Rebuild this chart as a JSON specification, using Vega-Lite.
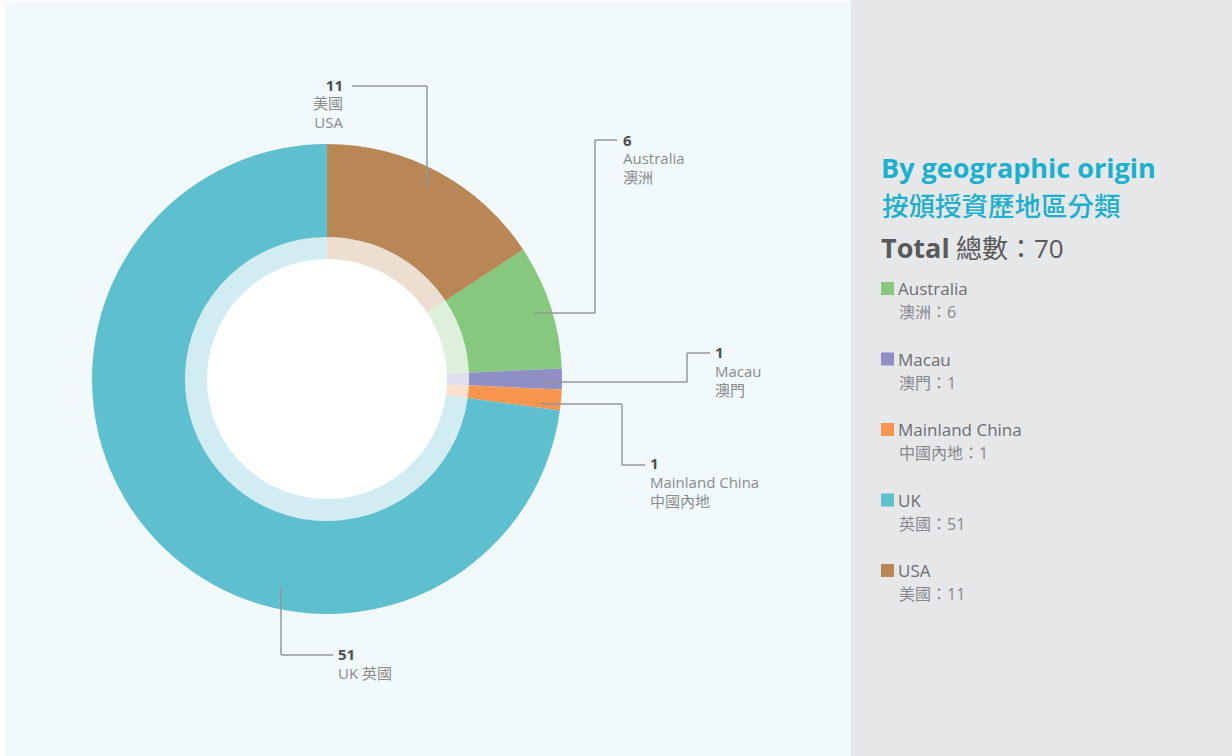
{
  "$schema": "https://vega.github.io/schema/vega-lite/v6.json",
  "width": 1232,
  "height": 756,
  "autosize": "none",
  "padding": 0,
  "background": "#ffffff",
  "config": {"view": {"stroke": null}, "font": "'Open Sans', 'Noto Sans CJK TC', sans-serif"},
  "datasets": {
    "origin": [
      {"country": "Australia", "cn": "澳洲", "count": 6},
      {"country": "Macau", "cn": "澳門", "count": 1},
      {"country": "Mainland China", "cn": "中國內地", "count": 1},
      {"country": "UK", "cn": "英國", "count": 51},
      {"country": "USA", "cn": "美國", "count": 11}
    ]
  },
  "data": {"values": [{}]},
  "layer": [
    {"mark": {"type": "rect", "fill": "#f1f9fb"}, "encoding": {"x": {"value": 5}, "x2": {"value": 851}, "y": {"value": 1}, "y2": {"value": 756}}},
    {"mark": {"type": "rect", "fill": "#e6e7e8"}, "encoding": {"x": {"value": 851}, "x2": {"value": 1232}, "y": {"value": 0}, "y2": {"value": 756}}},
    {"mark": {"type": "arc", "x": 327, "y": 379, "theta": 0, "theta2": 6.2832, "innerRadius": 0, "outerRadius": 142, "fill": "#ffffff"}, "encoding": {}},
    {
      "data": {"name": "origin"},
      "mark": {"type": "arc", "x": 327, "y": 379, "innerRadius": 120, "outerRadius": 142, "opacity": 0.28},
      "encoding": {
        "theta": {"field": "count", "type": "quantitative", "stack": true, "scale": {"range": [0.98736, 7.27055]}},
        "order": {"field": "country", "sort": "ascending"},
        "color": {"field": "country", "type": "nominal", "legend": null,
          "scale": {"domain": ["Australia", "Macau", "Mainland China", "UK", "USA"], "range": ["#86c87e", "#8f8fc5", "#f7954f", "#5ebfcf", "#b98756"]}}
      }
    },
    {
      "data": {"name": "origin"},
      "mark": {"type": "arc", "x": 327, "y": 379, "innerRadius": 142, "outerRadius": 235},
      "encoding": {
        "theta": {"field": "count", "type": "quantitative", "stack": true, "scale": {"range": [0.98736, 7.27055]}},
        "order": {"field": "country", "sort": "ascending"},
        "color": {"field": "country", "type": "nominal", "legend": null}
      }
    },
    {"mark": {"type": "rule", "color": "#949699", "strokeWidth": 1.5}, "encoding": {"x": {"value": 427}, "y": {"value": 188}, "x2": {"value": 427}, "y2": {"value": 86}}},
    {"mark": {"type": "rule", "color": "#949699", "strokeWidth": 1.5}, "encoding": {"x": {"value": 352}, "y": {"value": 86}, "x2": {"value": 427}, "y2": {"value": 86}}},
    {"mark": {"type": "rule", "color": "#949699", "strokeWidth": 1.5}, "encoding": {"x": {"value": 534}, "y": {"value": 313}, "x2": {"value": 595}, "y2": {"value": 313}}},
    {"mark": {"type": "rule", "color": "#949699", "strokeWidth": 1.5}, "encoding": {"x": {"value": 595}, "y": {"value": 313}, "x2": {"value": 595}, "y2": {"value": 140}}},
    {"mark": {"type": "rule", "color": "#949699", "strokeWidth": 1.5}, "encoding": {"x": {"value": 595}, "y": {"value": 140}, "x2": {"value": 617}, "y2": {"value": 140}}},
    {"mark": {"type": "rule", "color": "#949699", "strokeWidth": 1.5}, "encoding": {"x": {"value": 543}, "y": {"value": 382}, "x2": {"value": 687}, "y2": {"value": 382}}},
    {"mark": {"type": "rule", "color": "#949699", "strokeWidth": 1.5}, "encoding": {"x": {"value": 687}, "y": {"value": 382}, "x2": {"value": 687}, "y2": {"value": 353}}},
    {"mark": {"type": "rule", "color": "#949699", "strokeWidth": 1.5}, "encoding": {"x": {"value": 687}, "y": {"value": 353}, "x2": {"value": 710}, "y2": {"value": 353}}},
    {"mark": {"type": "rule", "color": "#949699", "strokeWidth": 1.5}, "encoding": {"x": {"value": 541}, "y": {"value": 404}, "x2": {"value": 622}, "y2": {"value": 404}}},
    {"mark": {"type": "rule", "color": "#949699", "strokeWidth": 1.5}, "encoding": {"x": {"value": 622}, "y": {"value": 404}, "x2": {"value": 622}, "y2": {"value": 465}}},
    {"mark": {"type": "rule", "color": "#949699", "strokeWidth": 1.5}, "encoding": {"x": {"value": 622}, "y": {"value": 465}, "x2": {"value": 645}, "y2": {"value": 465}}},
    {"mark": {"type": "rule", "color": "#949699", "strokeWidth": 1.5}, "encoding": {"x": {"value": 281}, "y": {"value": 587}, "x2": {"value": 281}, "y2": {"value": 655}}},
    {"mark": {"type": "rule", "color": "#949699", "strokeWidth": 1.5}, "encoding": {"x": {"value": 281}, "y": {"value": 655}, "x2": {"value": 333}, "y2": {"value": 655}}},
    {
      "data": {"name": "origin"},
      "transform": [{"filter": "datum.country === 'USA'"}],
      "mark": {"type": "text", "x": 343, "y": 91, "align": "right", "baseline": "alphabetic", "fontSize": 15, "fontWeight": "bold", "color": "#4d4e50"},
      "encoding": {"text": {"field": "count"}}
    },
    {"mark": {"type": "text", "x": 343, "y": 109, "align": "right", "baseline": "alphabetic", "fontSize": 15, "lineHeight": 19, "color": "#8a8b8d", "text": ["美國", "USA"]}, "encoding": {}},
    {
      "data": {"name": "origin"},
      "transform": [{"filter": "datum.country === 'Australia'"}],
      "mark": {"type": "text", "x": 623, "y": 146, "align": "left", "baseline": "alphabetic", "fontSize": 15, "fontWeight": "bold", "color": "#4d4e50"},
      "encoding": {"text": {"field": "count"}}
    },
    {"mark": {"type": "text", "x": 623, "y": 164, "align": "left", "baseline": "alphabetic", "fontSize": 15, "lineHeight": 19, "color": "#8a8b8d", "text": ["Australia", "澳洲"]}, "encoding": {}},
    {
      "data": {"name": "origin"},
      "transform": [{"filter": "datum.country === 'Macau'"}],
      "mark": {"type": "text", "x": 715, "y": 358, "align": "left", "baseline": "alphabetic", "fontSize": 15, "fontWeight": "bold", "color": "#4d4e50"},
      "encoding": {"text": {"field": "count"}}
    },
    {"mark": {"type": "text", "x": 715, "y": 377, "align": "left", "baseline": "alphabetic", "fontSize": 15, "lineHeight": 19, "color": "#8a8b8d", "text": ["Macau", "澳門"]}, "encoding": {}},
    {
      "data": {"name": "origin"},
      "transform": [{"filter": "datum.country === 'Mainland China'"}],
      "mark": {"type": "text", "x": 650, "y": 469, "align": "left", "baseline": "alphabetic", "fontSize": 15, "fontWeight": "bold", "color": "#4d4e50"},
      "encoding": {"text": {"field": "count"}}
    },
    {"mark": {"type": "text", "x": 650, "y": 488, "align": "left", "baseline": "alphabetic", "fontSize": 15, "lineHeight": 19, "color": "#8a8b8d", "text": ["Mainland China", "中國內地"]}, "encoding": {}},
    {
      "data": {"name": "origin"},
      "transform": [{"filter": "datum.country === 'UK'"}],
      "mark": {"type": "text", "x": 338, "y": 660, "align": "left", "baseline": "alphabetic", "fontSize": 15, "fontWeight": "bold", "color": "#4d4e50"},
      "encoding": {"text": {"field": "count"}}
    },
    {"mark": {"type": "text", "x": 338, "y": 679, "align": "left", "baseline": "alphabetic", "fontSize": 15, "color": "#8a8b8d", "text": "UK 英國"}, "encoding": {}},
    {"mark": {"type": "text", "x": 881, "y": 178, "align": "left", "baseline": "alphabetic", "fontSize": 27, "fontWeight": "bold", "color": "#1ab0ce", "text": "By geographic origin"}, "encoding": {}},
    {"mark": {"type": "text", "x": 882, "y": 216, "align": "left", "baseline": "alphabetic", "fontSize": 26.5, "fontWeight": 500, "color": "#1ab0ce", "text": "按頒授資歷地區分類"}, "encoding": {}},
    {"mark": {"type": "text", "x": 881, "y": 258, "align": "left", "baseline": "alphabetic", "fontSize": 27, "fontWeight": "bold", "color": "#58595b", "text": "Total"}, "encoding": {}},
    {
      "data": {"name": "origin"},
      "transform": [
        {"aggregate": [{"op": "sum", "field": "count", "as": "total"}]},
        {"calculate": "'總數：' + datum.total", "as": "label"}
      ],
      "mark": {"type": "text", "x": 956, "y": 258, "align": "left", "baseline": "alphabetic", "fontSize": 26, "color": "#58595b"},
      "encoding": {"text": {"field": "label"}}
    },
    {
      "data": {"name": "origin"},
      "mark": {"type": "square", "x": 887.5, "size": 169, "filled": true, "opacity": 1},
      "encoding": {
        "y": {"field": "country", "type": "nominal", "axis": null, "scale": {"type": "point", "padding": 0, "range": [288.5, 570.5]}},
        "color": {"field": "country", "type": "nominal", "legend": null}
      }
    },
    {
      "data": {"name": "origin"},
      "mark": {"type": "text", "x": 898, "yOffset": 6.5, "align": "left", "baseline": "alphabetic", "fontSize": 17, "color": "#6d6e71"},
      "encoding": {
        "y": {"field": "country", "type": "nominal", "axis": null},
        "text": {"field": "country"}
      }
    },
    {
      "data": {"name": "origin"},
      "transform": [{"calculate": "datum.cn + '：' + datum.count", "as": "sub"}],
      "mark": {"type": "text", "x": 899, "yOffset": 29.5, "align": "left", "baseline": "alphabetic", "fontSize": 16, "color": "#87888b"},
      "encoding": {
        "y": {"field": "country", "type": "nominal", "axis": null},
        "text": {"field": "sub"}
      }
    }
  ]
}
